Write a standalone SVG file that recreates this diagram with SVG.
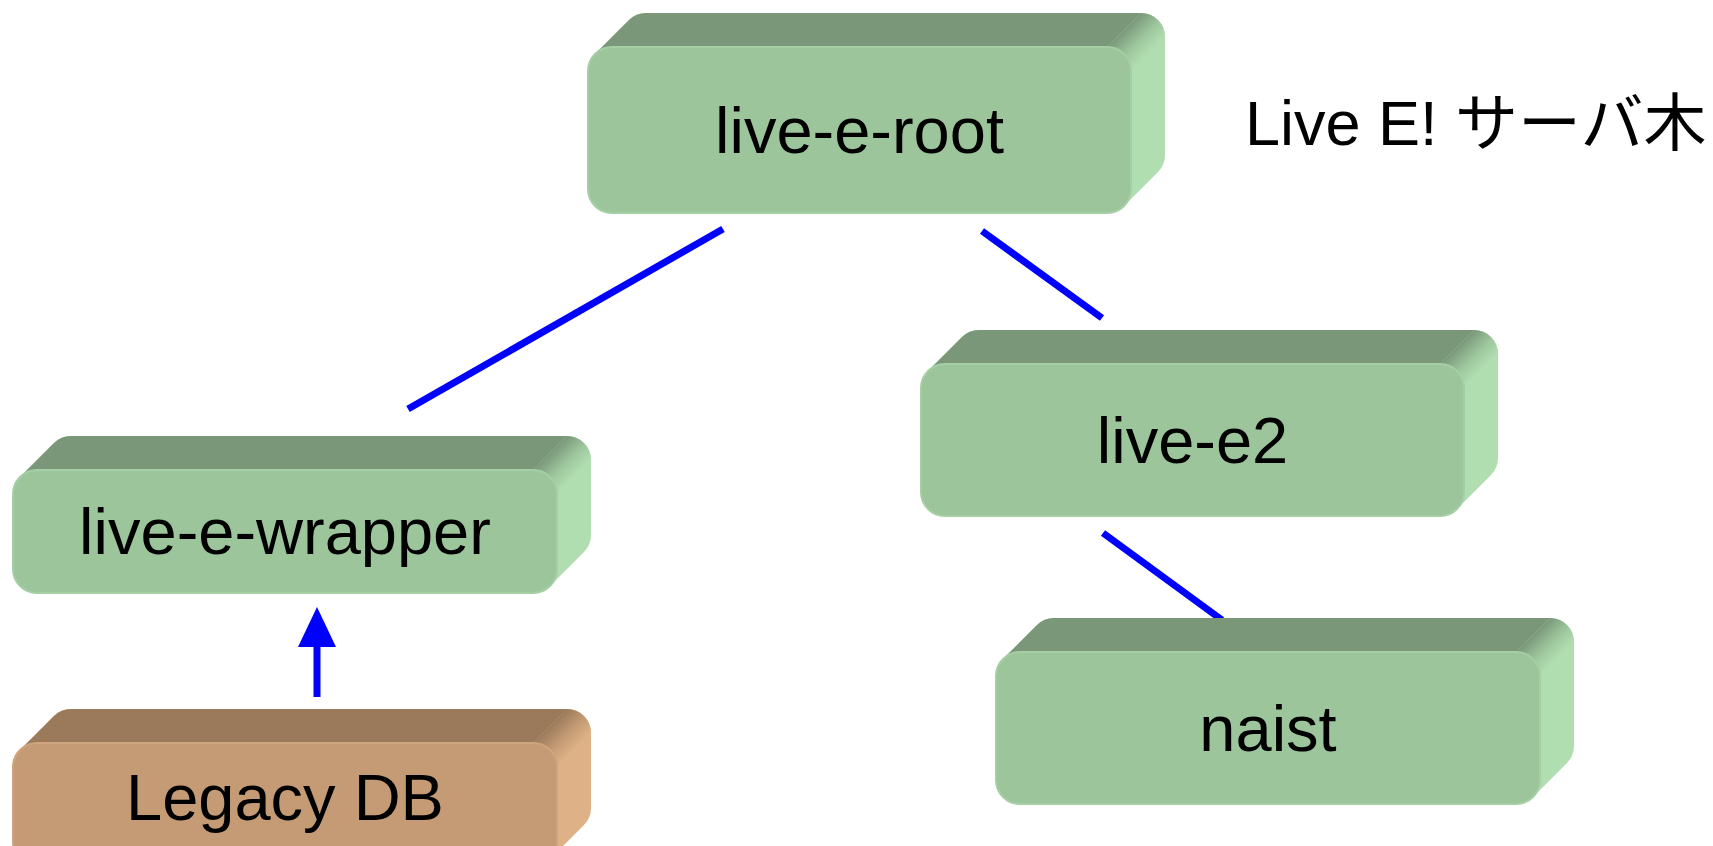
<svg xmlns="http://www.w3.org/2000/svg" width="1713" height="846" viewBox="0 0 1713 846">
<defs>
<style>
.side{fill:#B1DEB1}
.top{fill:#7A977A}
.front{fill:#9CC59C;stroke:#A5CEA5;stroke-width:2}
.ridge{fill:url(#gr)}
.legacy .side{fill:#DEB286}
.legacy .top{fill:#9A7A5B}
.legacy .front{fill:#C49B75;stroke:#CDA47D}
.legacy .ridge{fill:url(#br)}
.lbl{font-family:"Liberation Sans",Arial,sans-serif;font-size:65px;fill:#000;text-anchor:middle}
.edge{stroke:#0000FF;stroke-width:7;fill:none}
</style>
<linearGradient id="gr" x1="0" y1="0" x2="1" y2="1">
<stop offset="0.29" stop-color="#7A977A"/>
<stop offset="0.52" stop-color="#9DC69D"/>
<stop offset="0.71" stop-color="#B1DEB1"/>
</linearGradient>
<linearGradient id="br" x1="0" y1="0" x2="1" y2="1">
<stop offset="0.29" stop-color="#9A7A5B"/>
<stop offset="0.52" stop-color="#C49B75"/>
<stop offset="0.71" stop-color="#DEB286"/>
</linearGradient>
<marker id="ah" markerUnits="userSpaceOnUse" markerWidth="40" markerHeight="38" viewBox="0 0 40 38" refX="0" refY="19" orient="auto">
<path d="M0,0 L40,19 L0,38 Z" fill="#0000FF"/>
</marker>
</defs>
<rect width="1713" height="846" fill="#FFFFFF"/>

<g id="connectors">
<line class="edge" x1="723" y1="229" x2="408" y2="409"/>
<line class="edge" x1="982" y1="231" x2="1102" y2="318"/>
<line class="edge" x1="1103" y1="533" x2="1222" y2="620"/>
<line class="edge" x1="317" y1="697" x2="317" y2="647" stroke-width="8" marker-end="url(#ah)"/>
</g>

<g id="live-e-root" transform="translate(588,47)">
<path class="side" d="M7,7 L41,-27 A24 24 0 0 1 58,-34 L553,-34 A24 24 0 0 1 577,-10 L577,108 A24 24 0 0 1 570,125 L536,159 Z"/>
<path class="top" d="M7,7 L41,-27 A24 24 0 0 1 58,-34 L553,-34 L519,0 Z"/>
<path class="ridge" d="M519,0 L553,-34 A24 24 0 0 1 577,-10 L543,24 Z"/>
<rect class="front" x="0" y="0" width="543" height="166" rx="24"/>
<text class="lbl" x="271.5" y="106">live-e-root</text>
</g>

<g id="live-e-wrapper" transform="translate(13,470)">
<path class="side" d="M7,7 L41,-27 A24 24 0 0 1 58,-34 L554,-34 A24 24 0 0 1 578,-10 L578,65 A24 24 0 0 1 571,82 L537,116 Z"/>
<path class="top" d="M7,7 L41,-27 A24 24 0 0 1 58,-34 L554,-34 L520,0 Z"/>
<path class="ridge" d="M520,0 L554,-34 A24 24 0 0 1 578,-10 L544,24 Z"/>
<rect class="front" x="0" y="0" width="544" height="123" rx="24"/>
<text class="lbl" x="272" y="84">live-e-wrapper</text>
</g>

<g id="legacy-db" class="legacy" transform="translate(13,743)">
<path class="side" d="M7,7 L41,-27 A24 24 0 0 1 58,-34 L554,-34 A24 24 0 0 1 578,-10 L578,65 A24 24 0 0 1 571,82 L537,116 Z"/>
<path class="top" d="M7,7 L41,-27 A24 24 0 0 1 58,-34 L554,-34 L520,0 Z"/>
<path class="ridge" d="M520,0 L554,-34 A24 24 0 0 1 578,-10 L544,24 Z"/>
<rect class="front" x="0" y="0" width="544" height="123" rx="24"/>
<text class="lbl" x="272" y="77">Legacy DB</text>
</g>

<g id="live-e2" transform="translate(921,364)">
<path class="side" d="M7,7 L41,-27 A24 24 0 0 1 58,-34 L553,-34 A24 24 0 0 1 577,-10 L577,94 A24 24 0 0 1 570,111 L536,145 Z"/>
<path class="top" d="M7,7 L41,-27 A24 24 0 0 1 58,-34 L553,-34 L519,0 Z"/>
<path class="ridge" d="M519,0 L553,-34 A24 24 0 0 1 577,-10 L543,24 Z"/>
<rect class="front" x="0" y="0" width="543" height="152" rx="24"/>
<text class="lbl" x="271.5" y="99">live-e2</text>
</g>

<g id="naist" transform="translate(996,652)">
<path class="side" d="M7,7 L41,-27 A24 24 0 0 1 58,-34 L554,-34 A24 24 0 0 1 578,-10 L578,94 A24 24 0 0 1 571,111 L537,145 Z"/>
<path class="top" d="M7,7 L41,-27 A24 24 0 0 1 58,-34 L554,-34 L520,0 Z"/>
<path class="ridge" d="M520,0 L554,-34 A24 24 0 0 1 578,-10 L544,24 Z"/>
<rect class="front" x="0" y="0" width="544" height="152" rx="24"/>
<text class="lbl" x="272" y="99">naist</text>
</g>

<g id="title">
<text x="1245" y="145" font-family="'Liberation Sans','Noto Sans CJK JP',sans-serif" font-size="63" fill="#000">Live E! サーバ木</text>
</g>
</svg>
